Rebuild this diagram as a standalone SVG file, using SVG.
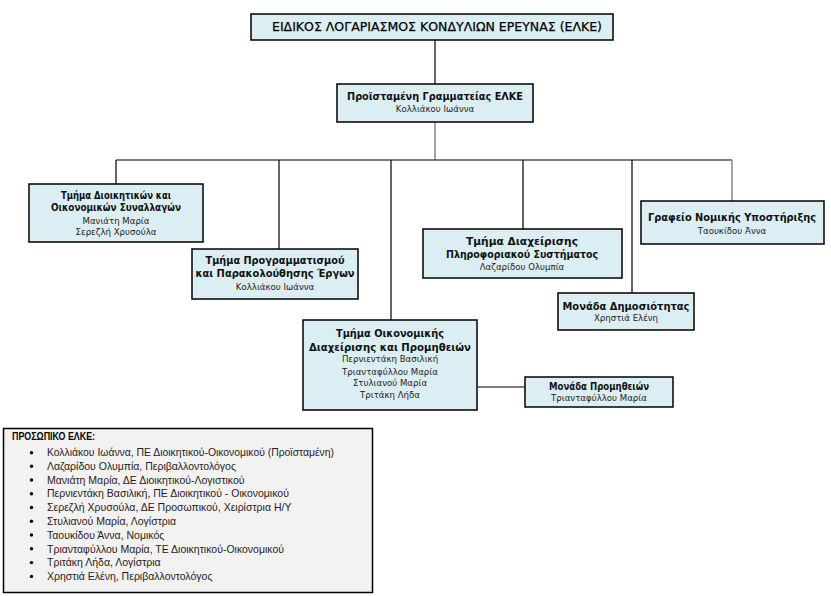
<svg xmlns="http://www.w3.org/2000/svg" width="831" height="596" viewBox="0 0 831 596">
<style>
.box{fill:#DBEEF3;stroke:#000;stroke-width:1.5}
.t{font-family:"DejaVu Sans",Verdana,sans-serif;font-weight:bold;font-size:10px;fill:#111;text-anchor:middle}
.n{font-family:"DejaVu Sans",Verdana,sans-serif;font-size:8.6px;fill:#2a1a1a;text-anchor:middle}
.c{fill:none;stroke:#000;stroke-width:1.2}
.g{fill:none;stroke:#888;stroke-width:1.5}
.l{font-family:"Liberation Sans",Arial,sans-serif;font-size:10.5px;fill:#2a1a1a}
</style>
<rect width="831" height="596" fill="#fff"/>
<g id="connectors">
<path class="c" d="M435 40V84"/>
<path class="g" d="M435 122V160"/>
<path class="c" d="M116 160H732M116 160V184M279 160V249M391 160V320M523 160V229M632 160V293"/>
<path class="g" d="M732 160V201"/>
<path class="c" d="M477 387H525"/>
</g>
<g id="elke">
<rect class="box" x="251" y="14" width="362" height="26"/>
<text x="437" y="31" style="font-family:'DejaVu Sans',Verdana,sans-serif;font-size:12.5px;fill:#000;stroke:#000;stroke-width:0.25;text-anchor:middle" textLength="330" lengthAdjust="spacingAndGlyphs">ΕΙΔΙΚΟΣ ΛΟΓΑΡΙΑΣΜΟΣ ΚΟΝΔΥΛΙΩΝ ΕΡΕΥΝΑΣ (ΕΛΚΕ)</text>
</g>
<g id="proistamenh">
<rect class="box" x="337" y="84" width="196" height="38"/>
<text class="t" x="435" y="100" textLength="176" lengthAdjust="spacingAndGlyphs">Προϊσταμένη Γραμματείας ΕΛΚΕ</text>
<text class="n" x="435" y="112">Κολλιάκου Ιωάννα</text>
</g>
<g id="dioikitikon">
<rect class="box" x="29" y="184" width="174" height="58"/>
<text class="t" x="116" y="199" textLength="110" lengthAdjust="spacingAndGlyphs">Τμήμα Διοικητικών και</text>
<text class="t" x="116" y="211" textLength="130" lengthAdjust="spacingAndGlyphs">Οικονομικών Συναλλαγών</text>
<text class="n" x="116" y="224">Μανιάτη Μαρία</text>
<text class="n" x="116" y="235">Σερεζλή Χρυσούλα</text>
</g>
<g id="programmatismou">
<rect class="box" x="192" y="249" width="166" height="50"/>
<text class="t" x="275" y="264" textLength="139" lengthAdjust="spacingAndGlyphs">Τμήμα Προγραμματισμού</text>
<text class="t" x="275" y="277" textLength="159" lengthAdjust="spacingAndGlyphs">και Παρακολούθησης Έργων</text>
<text class="n" x="275" y="290">Κολλιάκου Ιωάννα</text>
</g>
<g id="oikonomikis">
<rect class="box" x="303" y="320" width="174" height="90"/>
<text class="t" x="390" y="337" textLength="108" lengthAdjust="spacingAndGlyphs">Τμήμα Οικονομικής</text>
<text class="t" x="390" y="351" textLength="162" lengthAdjust="spacingAndGlyphs">Διαχείρισης και Προμηθειών</text>
<text class="n" x="390" y="362">Περνιεντάκη Βασιλική</text>
<text class="n" x="390" y="375">Τριανταφύλλου Μαρία</text>
<text class="n" x="390" y="386">Στυλιανού Μαρία</text>
<text class="n" x="390" y="398">Τριτάκη Λήδα</text>
</g>
<g id="promitheion">
<rect class="box" x="525" y="377" width="148" height="30"/>
<text class="t" x="599" y="390" textLength="100" lengthAdjust="spacingAndGlyphs">Μονάδα Προμηθειών</text>
<text class="n" x="599" y="401">Τριανταφύλλου  Μαρία</text>
</g>
<g id="pliroforiakou">
<rect class="box" x="423" y="229" width="199" height="49"/>
<text class="t" x="522" y="245" textLength="112" lengthAdjust="spacingAndGlyphs">Τμήμα Διαχείρισης</text>
<text class="t" x="522" y="258" textLength="152" lengthAdjust="spacingAndGlyphs">Πληροφοριακού Συστήματος</text>
<text class="n" x="522" y="270">Λαζαρίδου Ολυμπία</text>
</g>
<g id="dimosiotitas">
<rect class="box" x="558" y="293" width="136" height="37"/>
<text class="t" x="626" y="310" textLength="127" lengthAdjust="spacingAndGlyphs">Μονάδα Δημοσιότητας</text>
<text class="n" x="626" y="321">Χρηστιά Ελένη</text>
</g>
<g id="nomikis">
<rect class="box" x="641" y="201" width="183" height="43"/>
<text class="t" x="732" y="221" textLength="168" lengthAdjust="spacingAndGlyphs">Γραφείο Νομικής Υποστήριξης</text>
<text class="n" x="732" y="234">Ταουκίδου Άννα</text>
</g>
<g id="legend">
<rect x="3.5" y="428.5" width="369" height="164" fill="#F2F2F2" stroke="#000" stroke-width="1.5"/>
<text class="l" x="12" y="440" style="font-weight:bold;fill:#000" textLength="83" lengthAdjust="spacingAndGlyphs">ΠΡΟΣΩΠΙΚΟ ΕΛΚΕ:</text>
<g fill="#000">
<circle cx="31.5" cy="452.7" r="1.7"/><circle cx="31.5" cy="466.3" r="1.7"/><circle cx="31.5" cy="480" r="1.7"/><circle cx="31.5" cy="493.7" r="1.7"/><circle cx="31.5" cy="507.5" r="1.7"/><circle cx="31.5" cy="521.3" r="1.7"/><circle cx="31.5" cy="535" r="1.7"/><circle cx="31.5" cy="548.8" r="1.7"/><circle cx="31.5" cy="562.6" r="1.7"/><circle cx="31.5" cy="576.4" r="1.7"/>
</g>
<text class="l" x="47" y="456.3" textLength="287" lengthAdjust="spacingAndGlyphs">Κολλιάκου Ιωάννα, ΠΕ Διοικητικού-Οικονομικού (Προϊσταμένη)</text>
<text class="l" x="47" y="470">Λαζαρίδου Ολυμπία, Περιβαλλοντολόγος</text>
<text class="l" x="47" y="483.7">Μανιάτη Μαρία, ΔΕ Διοικητικού-Λογιστικού</text>
<text class="l" x="47" y="497.4">Περνιεντάκη Βασιλική, ΠΕ Διοικητικού - Οικονομικού</text>
<text class="l" x="47" y="511.2">Σερεζλή Χρυσούλα, ΔΕ Προσωπικού, Χειρίστρια Η/Υ</text>
<text class="l" x="47" y="525">Στυλιανού Μαρία, Λογίστρια</text>
<text class="l" x="47" y="538.7">Ταουκίδου Άννα, Νομικός</text>
<text class="l" x="47" y="552.5">Τριανταφύλλου Μαρία, ΤΕ Διοικητικού-Οικονομικού</text>
<text class="l" x="47" y="566.3">Τριτάκη Λήδα, Λογίστρια</text>
<text class="l" x="47" y="580.1">Χρηστιά Ελένη, Περιβαλλοντολόγος</text>
</g>
</svg>
